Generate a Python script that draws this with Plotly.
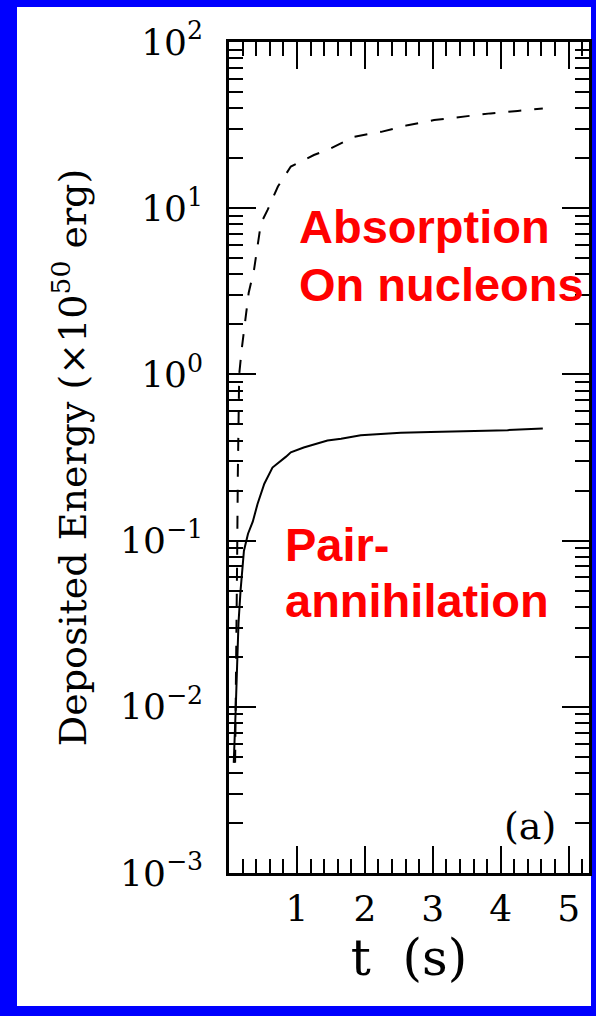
import plotly.graph_objects as go

# Absorption on nucleons (dashed)
t_abs = [0.09, 0.10, 0.11, 0.12, 0.13, 0.14, 0.15, 0.19, 0.235, 0.29, 0.37, 0.42, 0.47,
         0.57, 0.72, 0.91, 1.25, 1.5, 1.84, 2.24, 2.63, 3.02, 3.41, 3.85, 4.25, 4.62]
e_abs = [0.0046, 0.01, 0.032, 0.079, 0.25, 0.72, 1.0, 1.45, 2.1, 3.1, 4.3, 5.9, 8.1,
         9.8, 13.5, 17.8, 20.9, 22.9, 26.9, 28.8, 31.6, 33.9, 35.5, 37.2, 38.5, 39.8]

# Pair annihilation (solid)
t_pair = [0.07, 0.085, 0.10, 0.12, 0.14, 0.17, 0.19, 0.22, 0.28, 0.35, 0.42, 0.52, 0.64,
          0.76, 0.84, 0.91, 1.1, 1.45, 1.65, 1.94, 2.53, 2.97, 3.56, 4.1, 4.62]
e_pair = [0.0046, 0.0063, 0.01, 0.018, 0.032, 0.05, 0.063, 0.087, 0.11, 0.13, 0.166, 0.22, 0.275,
          0.30, 0.32, 0.34, 0.363, 0.40, 0.41, 0.43, 0.445, 0.45, 0.455, 0.462, 0.473]

x_ticks = [1, 2, 3, 4, 5]
x_tick_labels = ["1", "2", "3", "4", "5"]
y_ticks = [1e-3, 1e-2, 1e-1, 1, 10, 100]
y_tick_labels = ["10<sup>\u22123</sup>", "10<sup>\u22122</sup>", "10<sup>\u22121</sup>",
                 "10<sup>0</sup>", "10<sup>1</sup>", "10<sup>2</sup>"]

SERIF = "DejaVu Serif"
BLUE = "#0000FF"
RED = "#FF0000"

fig = go.Figure()
fig.add_trace(go.Scatter(x=t_abs, y=e_abs, mode="lines",
                         line=dict(color="black", width=2, dash="13px,13px"),
                         showlegend=False))
fig.add_trace(go.Scatter(x=t_pair, y=e_pair, mode="lines",
                         line=dict(color="black", width=2),
                         showlegend=False))

W, H = 596, 1016
L, R, T, B = 229, 7, 42, 143
pw, ph = W - L - R, H - T - B

def px2paper_x(px):
    return (px - L) / pw

def px2paper_y(py):
    return 1 - (py - T) / ph

# white page area behind the plot
fig.add_shape(type="rect", xref="paper", yref="paper", layer="below",
              x0=px2paper_x(17), x1=px2paper_x(591),
              y0=px2paper_y(1006), y1=px2paper_y(7),
              fillcolor="white", line=dict(width=0))

axis_common = dict(showline=True, linecolor="black", linewidth=2.5, mirror="allticks",
                   ticks="inside", ticklen=27, tickwidth=2, tickcolor="black",
                   showgrid=False, zeroline=False)

fig.update_xaxes(range=[0, 5.3], tickvals=x_ticks, ticktext=x_tick_labels,
                 tickfont=dict(family=SERIF, size=36, color="black"),
                 ticklabelstandoff=2,
                 minor=dict(ticks="inside", ticklen=14, tickwidth=2, tickcolor="black",
                            dtick=0.2, tick0=0, showgrid=False),
                 title=dict(text="t\u00a0\u00a0(s)", font=dict(family=SERIF, size=50, color="black"),
                            standoff=12),
                 **axis_common)
fig.update_yaxes(type="log", range=[-3, 2], tickvals=y_ticks, ticktext=y_tick_labels,
                 tickfont=dict(family=SERIF, size=36, color="black"),
                 ticklabelstandoff=16,
                 minor=dict(ticks="inside", ticklen=14, tickwidth=2, tickcolor="black",
                            dtick="D1", showgrid=False),
                 title=dict(text="Deposited Energy (\u00d710<sup>50</sup> erg)",
                            font=dict(family=SERIF, size=38, color="black"),
                            standoff=22),
                 **axis_common)

red_font = dict(family="Liberation Sans, Arial", size=47, color=RED, weight="bold")
labels = [("Absorption", 297, 227), ("On nucleons", 297, 284),
          ("Pair-", 283, 544), ("annihilation", 283, 600)]
for txt, x, y in labels:
    fig.add_annotation(text=f"<b>{txt}</b>", xref="paper", yref="paper",
                       x=px2paper_x(x), y=px2paper_y(y), xanchor="left", yanchor="middle",
                       showarrow=False, font=red_font)

fig.add_annotation(text="(a)", xref="paper", yref="paper",
                   x=px2paper_x(530), y=px2paper_y(826), xanchor="center", yanchor="middle",
                   showarrow=False, font=dict(family=SERIF, size=38, color="black"))

fig.update_layout(width=W, height=H, margin=dict(l=L, r=R, t=T, b=B, autoexpand=False),
                  paper_bgcolor=BLUE, plot_bgcolor="white")

fig.write_html("out.html")
